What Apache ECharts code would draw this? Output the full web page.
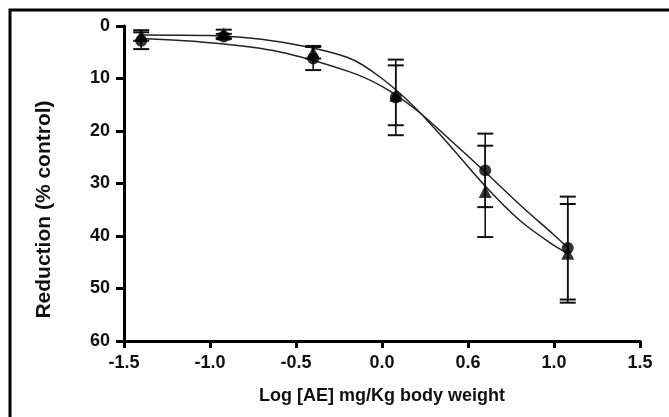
<!DOCTYPE html>
<html>
<head>
<meta charset="utf-8">
<script src="https://cdn.jsdelivr.net/npm/echarts@6/dist/echarts.min.js"></script>
<style>
	html, body { margin: 0; padding: 0; background: #fff; }
	#chart { width: 669px; height: 417px; }
</style>
</head>
<body>
<div id="chart"></div>
<script>
// doses (log mg/Kg) and measured reduction
var doses = [-1.40, -0.92, -0.40, 0.08, 0.60, 1.08];
var circleMean = [2.8, 2.0, 6.2, 13.6, 27.5, 42.3];
var circleErr = [1.6, 0.5, 2.2, 7.2, 7.0, 9.8];
var triMean = [1.8, 1.5, 5.0, 13.2, 31.5, 43.3];
var triErr = [1.0, 0.8, 1.2, 5.7, 8.7, 9.4];

// fitted curves
var fitX = [-1.40, -1.0, -0.6, -0.2, 0.0, 0.2, 0.4, 0.6, 0.8, 1.0, 1.08];
var circleFit = [2.4, 3.2, 4.9, 8.6, 11.5, 16.0, 21.8, 27.8, 34.0, 39.8, 42.2];
var triFit = [1.7, 1.8, 3.0, 6.0, 10.0, 15.8, 23.0, 30.5, 37.0, 41.8, 43.3];

var xTickLabels = ['-1.5', '-1.0', '-0.5', '0.0', '0.6', '1.0', '1.5'];

function pairs(xs, ys) {
	return xs.map(function (x, i) { return [x, ys[i]]; });
}
function bars(xs, ys, es) {
	return xs.map(function (x, i) { return [x, ys[i] - es[i], ys[i] + es[i]]; });
}

function errorBar(params, api) {
	var top = api.coord([api.value(0), api.value(1)]);
	var bot = api.coord([api.value(0), api.value(2)]);
	var w = 8;
	var st = { stroke: '#111', lineWidth: 1.6 };
	return {
		type: 'group',
		children: [
			{ type: 'line', shape: { x1: top[0], y1: top[1], x2: bot[0], y2: bot[1] }, style: st },
			{ type: 'line', shape: { x1: top[0] - w, y1: top[1], x2: top[0] + w, y2: top[1] }, style: { stroke: '#111', lineWidth: 2 } },
			{ type: 'line', shape: { x1: bot[0] - w, y1: bot[1], x2: bot[0] + w, y2: bot[1] }, style: { stroke: '#111', lineWidth: 2 } }
		]
	};
}

var chart = echarts.init(document.getElementById('chart'));
var font = '"Liberation Sans", Arial, sans-serif';

var option = {
	animation: false,
	backgroundColor: '#fff',
	graphic: [{
		type: 'rect',
		shape: { x: 10, y: 10, width: 720, height: 460 },
		style: { fill: 'none', stroke: '#000', lineWidth: 3 }
	}],
	grid: { left: 124, right: 29, top: 26, bottom: 76 },
	xAxis: {
		type: 'value',
		position: 'bottom',
		min: -1.5,
		max: 1.5,
		interval: 0.5,
		name: 'Log [AE] mg/Kg body weight',
		nameLocation: 'middle',
		nameGap: 46,
		nameTextStyle: { fontFamily: font, fontWeight: 'bold', fontSize: 18, color: '#111' },
		axisLine: { onZero: false, lineStyle: { color: '#000', width: 3 } },
		axisTick: { length: 7, lineStyle: { color: '#000', width: 3 } },
		splitLine: { show: false },
		axisLabel: {
			margin: 13,
			fontFamily: font, fontWeight: 'bold', fontSize: 18, color: '#111',
			showMinLabel: true, showMaxLabel: true,
			formatter: function (v) { return xTickLabels[Math.round((v + 1.5) / 0.5)]; }
		}
	},
	yAxis: {
		type: 'value',
		position: 'left',
		inverse: true,
		min: 0,
		max: 60,
		interval: 10,
		name: 'Reduction (% control)',
		nameLocation: 'middle',
		nameGap: 69,
		nameTextStyle: { fontFamily: font, fontWeight: 'bold', fontSize: 21, color: '#111', padding: [0, 52, 0, 0] },
		axisLine: { show: true, onZero: false, lineStyle: { color: '#000', width: 3 } },
		axisTick: { show: true, length: 8, lineStyle: { color: '#000', width: 3 } },
		splitLine: { show: false },
		axisLabel: { margin: 14, fontFamily: font, fontWeight: 'bold', fontSize: 18, color: '#111' }
	},
	series: [
		{
			type: 'line', data: pairs(fitX, circleFit), smooth: 0.35, showSymbol: false,
			lineStyle: { color: '#222', width: 1.5 }, z: 2
		},
		{
			type: 'line', data: pairs(fitX, triFit), smooth: 0.35, showSymbol: false,
			lineStyle: { color: '#222', width: 1.5 }, z: 2
		},
		{ type: 'custom', renderItem: errorBar, data: bars(doses, circleMean, circleErr), z: 3 },
		{ type: 'custom', renderItem: errorBar, data: bars(doses, triMean, triErr), z: 3 },
		{
			type: 'scatter', data: pairs(doses, circleMean), symbol: 'circle', symbolSize: 12,
			itemStyle: { color: '#000' }, z: 4
		},
		{
			type: 'scatter', data: pairs(doses, triMean), symbol: 'triangle', symbolSize: 13,
			itemStyle: { color: '#000' }, z: 5
		}
	]
};

chart.setOption(option);
</script>
</body>
</html>
